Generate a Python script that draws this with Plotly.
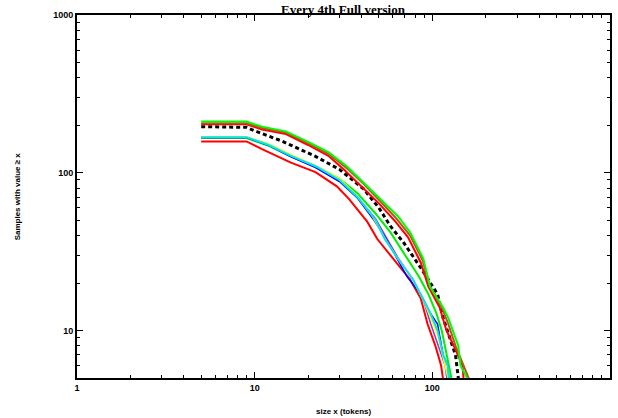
import plotly.graph_objects as go

# sizes (tokens) and counts, one pair per run
green_x = [5, 9, 11, 15, 20, 26, 33, 41, 51, 64, 75, 89, 97, 115, 123, 140, 144, 157, 160]
green_y = [211, 211, 196, 183, 157, 135, 110, 87, 68, 53, 42, 28.5, 19, 14, 12, 8, 6, 5, 4]

brown_x = [5, 9, 11, 15, 20, 26, 33, 41, 51, 63, 75, 88, 97, 113, 123, 135, 150, 160, 162]
brown_y = [206, 206, 192, 180, 154, 132, 107, 85, 66, 51, 40, 28, 19, 14, 11, 8, 6, 5, 4]

redtop_x = [5, 9, 11, 15, 20, 26, 32, 40, 50, 62, 73, 86, 95, 110, 120, 132, 148, 152]
redtop_y = [203, 203, 188, 176, 150, 128, 104, 82, 64, 49, 39, 27, 19, 14, 10, 8, 6, 4]

mean_x = [5, 9, 10.3, 14, 22, 30, 41, 50, 58, 69, 86, 107, 115, 135, 140, 142]
mean_y = [196, 194, 182, 160, 127, 105, 79, 60, 46, 36, 25, 17, 12, 7, 5, 4]

cyan_x = [5, 9, 12, 16, 22, 30, 38, 48, 54, 64, 78, 88, 97, 107, 115, 122, 126]
cyan_y = [168, 168, 150, 128, 110, 90, 70, 50, 38, 28.5, 21, 16, 13, 10, 7, 6, 4]

blue_x = [5, 9, 12, 16, 22, 30, 38, 47, 55, 63, 72, 86, 97, 107, 115, 122, 126]
blue_y = [167, 167, 149, 126, 108, 88, 69, 50, 38, 29, 22, 17, 13, 11, 7, 6, 4]

yellow_x = [5, 9, 12, 16, 22, 30, 37, 46, 53, 62, 76, 88, 98, 108, 118, 128]
yellow_y = [169, 169, 152, 130, 111, 92, 73, 53, 40, 30, 22, 16, 12, 9, 6, 4]

lgreen_x = [5, 9, 12, 16, 22, 30, 38, 48, 58, 72, 84, 95, 105, 113, 120, 128, 130]
lgreen_y = [166, 166, 148, 127, 110, 92, 74, 55, 42, 28.5, 22, 17, 13, 10, 7, 5, 4]

purple_x = [5, 9, 12, 16, 22, 30, 38, 48, 55, 64, 78, 90, 98, 108, 118, 124]
purple_y = [167, 167, 150, 128, 109, 89, 70, 51, 39, 29, 21, 15, 11, 8, 6, 4]

redlow_x = [5, 9, 11, 16, 22, 29, 34, 43, 49, 60, 75, 86, 94, 104, 112, 118]
redlow_y = [158, 158, 141, 116, 101, 82, 68, 49, 38, 28.5, 21, 16, 11, 8, 6, 4]

runs = [
    (redlow_x, redlow_y, "#ff0000", 2, "solid"),
    (lgreen_x, lgreen_y, "#00ee00", 2, "solid"),
    (purple_x, purple_y, "#9933cc", 1.5, "solid"),
    (blue_x, blue_y, "#0000ff", 1.5, "solid"),
    (yellow_x, yellow_y, "#ffff00", 1.5, "solid"),
    (cyan_x, cyan_y, "#00e5ee", 2, "solid"),
    (mean_x, mean_y, "#000000", 3, "4px,3px"),
    (redtop_x, redtop_y, "#ff0000", 2, "solid"),
    (brown_x, brown_y, "#b5541c", 2, "solid"),
    (green_x, green_y, "#00ff00", 2, "solid"),
]

fig = go.Figure()
for xs, ys, col, w, dash in runs:
    fig.add_trace(go.Scatter(x=xs, y=ys, mode="lines",
                             line=dict(color=col, width=w, dash=dash),
                             showlegend=False))

tickfont = dict(family="Liberation Sans", size=9, color="black", weight="bold")
labfont = dict(family="Liberation Sans", size=8, color="black", weight="bold")

axis = dict(type="log", dtick=1, showline=True, linewidth=2, linecolor="black",
            mirror="allticks", ticks="inside", ticklen=6, tickwidth=1, tickcolor="black",
            showgrid=False, zeroline=False, tickfont=tickfont, automargin=False,
            minor=dict(ticks="inside", ticklen=3, tickcolor="black", dtick="D1", showgrid=False))

fig.update_layout(
    width=618, height=418,
    margin=dict(l=77, r=8, t=15, b=40),
    plot_bgcolor="white", paper_bgcolor="white",
    xaxis=dict(axis, range=[0, 3]),
    yaxis=dict(axis, range=[0.699, 3]),
    annotations=[
        dict(text="Every 4th Full version", xref="paper", yref="paper", x=0.5, y=1.0413,
             xanchor="center", yanchor="top", showarrow=False,
             font=dict(family="Liberation Serif", size=13, color="black", weight="bold")),
        dict(text="size x (tokens)", xref="paper", yref="paper", x=0.5, y=-0.091,
             xanchor="center", yanchor="middle", showarrow=False, font=labfont),
        dict(text="Samples with value ≥ x", xref="paper", yref="paper", x=-0.111, y=0.5,
             xanchor="center", yanchor="middle", showarrow=False, textangle=-90, font=labfont),
    ],
)

# drop the page's default body margin so the figure sits at the window corner
fig.write_html("out.html", config={"displayModeBar": False},
               post_script="document.body.style.margin='0';")
